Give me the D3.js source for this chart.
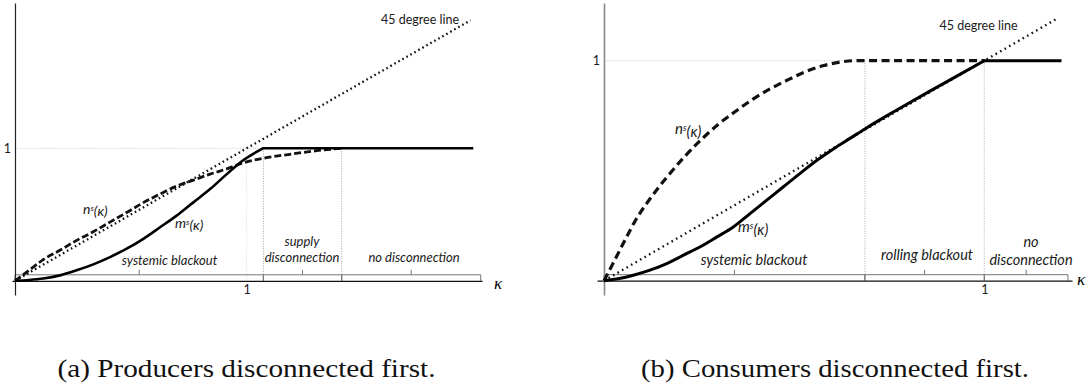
<!DOCTYPE html>
<html>
<head>
<meta charset="utf-8">
<script src="https://cdn.jsdelivr.net/npm/d3@7"></script>
<style>
  html, body { margin: 0; padding: 0; background: #fff; }
  svg { display: block; }
  .lbl { font-family: Lato, "Open Sans", sans-serif; fill: #1a1a1a; }
  .cap { font-family: "Liberation Serif", "Times New Roman", serif; fill: #111; }
</style>
</head>
<body>
<svg id="chart" width="1089" height="389"></svg>
<script>
// ---------------- DATA ----------------
// Panel (a): producers disconnected first
const aLineKappa = [0, 1.966];
const aMKappa = [0, 0.06, 0.122, 0.194, 0.266, 0.338, 0.41, 0.482, 0.554, 0.626, 0.698, 0.77, 0.842, 0.914, 0.985, 1.07, 1.978];
const aMValue = [0, 0.006, 0.017, 0.041, 0.079, 0.124, 0.179, 0.242, 0.317, 0.404, 0.492, 0.592, 0.692, 0.805, 0.91, 1.0, 1.0];
const aMKinkIndex = 15;
const aNKappa = [0, 0.065, 0.122, 0.194, 0.266, 0.338, 0.41, 0.482, 0.554, 0.626, 0.698, 0.77, 0.842, 0.914, 0.985, 1.072, 1.187, 1.302, 1.41];
const aNValue = [0, 0.085, 0.16, 0.23, 0.305, 0.37, 0.443, 0.515, 0.59, 0.655, 0.715, 0.76, 0.805, 0.845, 0.89, 0.925, 0.955, 0.982, 1.0];
const aRegionBounds = [0, 1.072, 1.41, 2.01];
const aRegionLabels = [["systemic blackout"], ["supply", "disconnection"], ["no disconnection"]];
const aCaption = "(a) Producers disconnected first.";

// Panel (b): consumers disconnected first
const bLineKappa = [0, 1.195];
const bMKappa = [0, 0.04, 0.077, 0.121, 0.165, 0.209, 0.252, 0.296, 0.34, 0.384, 0.428, 0.471, 0.515, 0.559, 0.603, 0.647, 0.686, 0.77, 0.85, 0.93, 1.0, 1.203];
const bMValue = [0, 0.01, 0.025, 0.048, 0.078, 0.116, 0.153, 0.198, 0.244, 0.305, 0.366, 0.426, 0.487, 0.546, 0.599, 0.647, 0.69, 0.776, 0.855, 0.932, 1.0, 1.0];
const bMKinkIndex = 20;
const bNKappa = [0, 0.028, 0.055, 0.083, 0.12, 0.165, 0.21, 0.255, 0.3, 0.35, 0.394, 0.44, 0.486, 0.53, 0.578, 0.625, 0.66, 1.0];
const bNValue = [0, 0.093, 0.184, 0.275, 0.37, 0.47, 0.56, 0.64, 0.71, 0.775, 0.828, 0.875, 0.915, 0.95, 0.978, 0.995, 1.0, 1.0];
const bRegionBounds = [0, 0.686, 1.0, 1.22];
const bRegionLabels = [["systemic blackout"], ["rolling blackout"], ["no", "disconnection"]];
const bCaption = "(b) Consumers disconnected first.";

const tickValues = [1];
const tickLabels = ["1"];

// ---------------- DRAWING ----------------
const svg = d3.select("#chart");

function drawPanel(cfg) {
  const g = svg.append("g");
  const x = d3.scaleLinear().domain([0, 1]).range([cfg.x0, cfg.x1]);
  const y = d3.scaleLinear().domain([0, 1]).range([cfg.y0, cfg.y1]);

  // reference dotted lines
  g.append("line")
    .attr("x1", x(0)).attr("x2", x(cfg.hEnd)).attr("y1", y(1)).attr("y2", y(1))
    .attr("stroke", "#bbb").attr("stroke-width", 0.8).attr("stroke-dasharray", "1,1.5");
  cfg.vLines.forEach(v => {
    g.append("line")
      .attr("x1", x(v.k)).attr("x2", x(v.k)).attr("y1", y(1)).attr("y2", y(0))
      .attr("stroke", v.c).attr("stroke-width", 0.8).attr("stroke-dasharray", "1,1.5");
  });

  // region brackets
  const b = cfg.bounds;
  for (let i = 0; i < b.length - 1; i++) {
    const xa = x(b[i]), xb = x(b[i + 1]), xm = x((b[i] + b[i + 1]) / 2);
    const top = y(0) - 6;
    g.append("path")
      .attr("d", `M${xa},${y(0)}V${top}H${xb}V${y(0)}M${xm},${top}V${top - 5}`)
      .attr("fill", "none").attr("stroke", "#777").attr("stroke-width", 1);
  }

  // axes
  const xa = d3.scaleLinear().domain([x.invert(cfg.axXStart), x.invert(cfg.axXEnd)]).range([cfg.axXStart, cfg.axXEnd]);
  const xAxis = g.append("g").attr("transform", `translate(0,${y(0)})`)
    .call(d3.axisBottom(xa).tickValues(tickValues).tickFormat((d, i) => tickLabels[i]).tickSize(0).tickPadding(4).tickSizeOuter(0));
  xAxis.select(".domain").attr("stroke", "#111").attr("stroke-width", 1.2);
  xAxis.selectAll("text").attr("class", "lbl").style("font-size", "12.5px").attr("font-family", null);

  const ya = d3.scaleLinear().domain([y.invert(cfg.axYStart), y.invert(cfg.axYEnd)]).range([cfg.axYStart, cfg.axYEnd]);
  const yAxis = g.append("g").attr("transform", `translate(${x(0)},0)`)
    .call(d3.axisLeft(ya).tickValues(tickValues).tickFormat((d, i) => tickLabels[i]).tickSize(0).tickPadding(4).tickSizeOuter(0));
  yAxis.select(".domain").attr("stroke", cfg.yAxisColor).attr("stroke-width", cfg.yAxisWidth);
  yAxis.selectAll("text").attr("class", "lbl").style("font-size", "12.5px").attr("font-family", null);

  const curve = d3.line().x(d => x(d[0])).y(d => y(d[1])).curve(d3.curveMonotoneX);
  const straight = d3.line().x(d => x(d[0])).y(d => y(d[1]));

  // 45 degree line
  g.append("path").datum(cfg.lineK.map(k => [k, k]))
    .attr("d", straight)
    .attr("fill", "none").attr("stroke", "#111").attr("stroke-width", cfg.dotW)
    .attr("stroke-dasharray", cfg.dotDash);

  // n^s dashed
  g.append("path").datum(cfg.nK.map((k, i) => [k, cfg.nV[i]]))
    .attr("d", curve).attr("fill", "none").attr("stroke", "#111")
    .attr("stroke-width", cfg.dashW).attr("stroke-dasharray", cfg.dashDash);

  // m^s solid: smooth part, then flat part after the kink
  const mPts = cfg.mK.map((k, i) => [k, cfg.mV[i]]);
  const mPath = curve(mPts.slice(0, cfg.mKink + 1)) + straight(mPts.slice(cfg.mKink)).replace(/^M/, "L");
  g.append("path").attr("d", mPath).attr("fill", "none").attr("stroke", "#000")
    .attr("stroke-width", cfg.solidW).attr("stroke-linejoin", "miter");

  // labels
  g.append("text").attr("class", "lbl").attr("x", cfg.lineLabel[0]).attr("y", cfg.lineLabel[1])
    .attr("text-anchor", "middle").attr("dy", "0.35em").style("font-size", "12.5px").text("45 degree line");

  function fnLabel(pos, letter) {
    const t = g.append("text").attr("class", "lbl").attr("x", pos[0]).attr("y", pos[1])
      .attr("dy", "0.35em").style("font-size", cfg.fnSize + "px").style("font-style", "italic");
    t.append("tspan").text(letter);
    t.append("tspan").attr("dy", "-0.4em").style("font-size", (cfg.fnSize * 0.6) + "px").text("s");
    t.append("tspan").attr("dy", "0.4em").text("(κ)");
  }
  fnLabel(cfg.nLabel, "n");
  fnLabel(cfg.mLabel, "m");

  cfg.regionLabels.forEach((lines, i) => {
    const p = cfg.regionPos[i];
    lines.forEach((s, j) => {
      g.append("text").attr("class", "lbl").attr("x", p[0])
        .attr("y", p[1] - (lines.length - 1 - j) * cfg.lineGap)
        .attr("text-anchor", "middle").attr("dy", "0.35em")
        .style("font-size", cfg.regSize + "px").style("font-style", "italic").text(s);
    });
  });

  g.append("text").attr("x", cfg.kappaPos[0]).attr("y", cfg.kappaPos[1]).attr("dy", "0.35em")
    .attr("text-anchor", "middle")
    .style("font-family", "'Liberation Serif', serif").style("font-style", "italic").style("font-size", "17px")
    .text("κ");

  g.append("text").attr("class", "cap").attr("x", cfg.capPos[0]).attr("y", cfg.capPos[1])
    .attr("text-anchor", "middle").attr("dy", "0.35em").style("font-size", "25px")
    .attr("textLength", cfg.capWidth).attr("lengthAdjust", "spacingAndGlyphs").text(cfg.caption);
}

drawPanel({
  x0: 15, x1: 246.7, y0: 280.8, y1: 148.3,
  axXStart: 12, axXEnd: 482, axYStart: 295, axYEnd: 3,
  yAxisColor: "#222", yAxisWidth: 1.2,
  hEnd: 1.072,
  vLines: [{k: 1, c: "#ccc"}, {k: 1.072, c: "#888"}, {k: 1.41, c: "#888"}],
  bounds: aRegionBounds, regionLabels: aRegionLabels,
  regionPos: [[169.5, 260], [302, 257], [414, 257]], lineGap: 15.5, regSize: 13,
  lineK: aLineKappa, mK: aMKappa, mV: aMValue, mKink: aMKinkIndex, nK: aNKappa, nV: aNValue,
  dotDash: "1.6,3", dotW: 2.3, dashDash: "7,3", dashW: 2.8, solidW: 2.6,
  lineLabel: [420, 20], nLabel: [83, 209], mLabel: [175, 223], fnSize: 14,
  kappaPos: [498, 283], capPos: [246.5, 368], capWidth: 378, caption: aCaption
});

drawPanel({
  x0: 604, x1: 984.3, y0: 280.7, y1: 60.7,
  axXStart: 597, axXEnd: 1072, axYStart: 295, axYEnd: 3,
  yAxisColor: "#888", yAxisWidth: 1.6,
  hEnd: 1.0,
  vLines: [{k: 0.686, c: "#999"}, {k: 1.0, c: "#999"}],
  bounds: bRegionBounds, regionLabels: bRegionLabels,
  regionPos: [[754, 260], [927, 255], [1031, 260]], lineGap: 18, regSize: 14.5,
  lineK: bLineKappa, mK: bMKappa, mV: bMValue, mKink: bMKinkIndex, nK: bNKappa, nV: bNValue,
  dotDash: "1.6,3.6", dotW: 2.3, dashDash: "8,4.5", dashW: 3.2, solidW: 3,
  lineLabel: [978.5, 26], nLabel: [675, 129], mLabel: [738, 227], fnSize: 15,
  kappaPos: [1081, 279], capPos: [835, 368], capWidth: 388, caption: bCaption
});
</script>
</body>
</html>
